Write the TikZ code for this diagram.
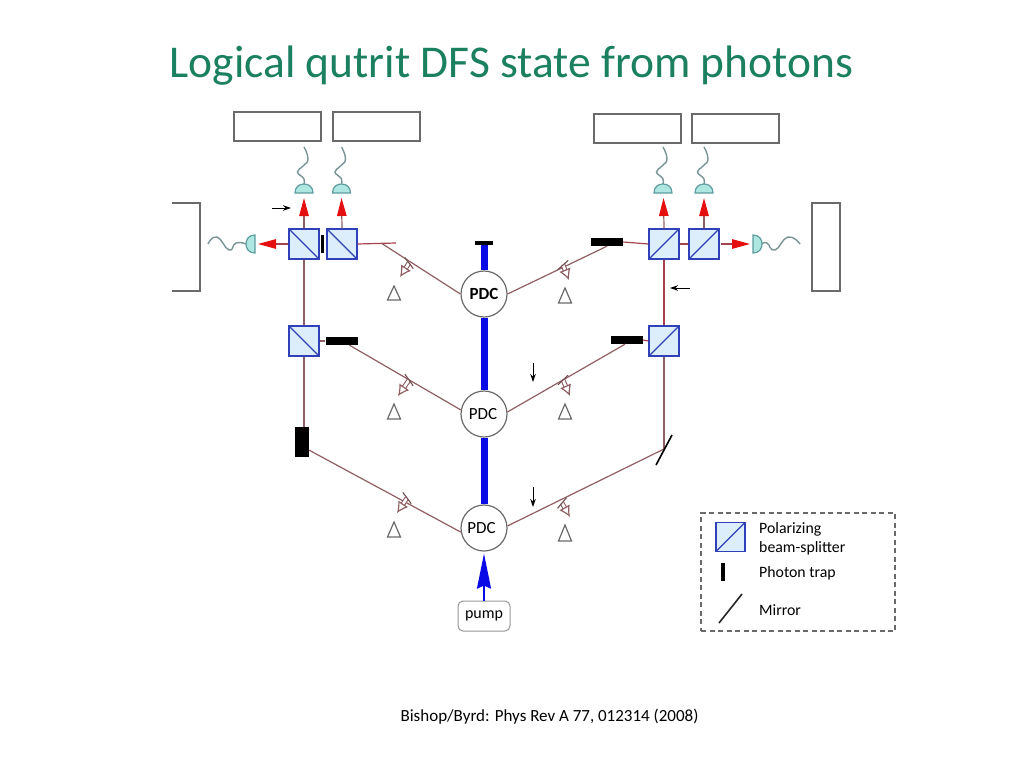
\documentclass[tikz,border=0pt]{standalone}
\usepackage{fontspec}
\setmainfont{Carlito}
\usetikzlibrary{arrows.meta,calc}
\definecolor{beamc}{HTML}{8F5F63}
\definecolor{beamr}{HTML}{A5424E}
\definecolor{boxg}{HTML}{6A6A6A}
\definecolor{pbsf}{HTML}{DCEEFB}
\definecolor{pbsd}{HTML}{3040B8}
\definecolor{detf}{HTML}{AEE6E2}
\definecolor{detd}{HTML}{5E9C9E}
\definecolor{wavec}{HTML}{7A9496}
\definecolor{titlec}{HTML}{1A8060}
\definecolor{pumpb}{HTML}{0A0AE6}
\definecolor{redt}{HTML}{E41010}
\tikzset{
  x=1pt,y=-1pt,
  readout/.style={draw=boxg,line width=1.4pt,fill=white,minimum width=87pt,minimum height=29pt,inner sep=0pt},
  pbsbase/.style={draw=pbsd,fill=pbsf,line width=1.2pt,minimum size=30pt,inner sep=0pt},
  pbsa/.style={pbsbase,path picture={\draw[pbsd,line width=1.1pt] (path picture bounding box.north west)--(path picture bounding box.south east);}},
  pbsb/.style={pbsbase,path picture={\draw[pbsd,line width=1.1pt] (path picture bounding box.south west)--(path picture bounding box.north east);}},
  trap/.style={fill=black,inner sep=0pt},
  pdc/.style={circle,draw=boxg,line width=1.2pt,fill=white,minimum size=46pt,inner sep=0pt,font=\fontsize{17}{19}\selectfont},
  beam/.style={beamc,line width=1.2pt},
  beamred/.style={beamr,line width=1.2pt},
  pumpbeam/.style={pumpb,line width=7pt},
  redarrow/.style={beamc,line width=1.2pt,-{Triangle[length=18pt,width=9.5pt,color=redt]}},
  redarrowh/.style={beamr,line width=1.2pt,-{Triangle[length=18pt,width=9.5pt,color=redt]}},
  det/.style={draw=detd,fill=detf,line width=1.2pt},
  wave/.style={wavec,line width=1.4pt},
  smallarrow/.style={black,line width=1pt,-{Stealth[length=8pt,width=5.5pt]}},
  hollow/.style={draw=beamc,line width=1.1pt,double=white,double distance=2.6pt,-{Latex[open,length=11pt,width=12pt,fill=white,line width=1.2pt]}},
  tick/.style={beamc!80!black,line width=1.1pt},
  delta/.style={draw=boxg,line width=1.2pt,fill=white},
  lab/.style={font=\fontsize{15.8}{18}\selectfont,anchor=west,inner sep=0pt,black},
}
\newcommand{\domeup}[1]{\draw[det,shift={(#1)}] (-9,9) .. controls (-9,3) and (-5,0) .. (0,0) .. controls (5,0) and (9,3) .. (9,9) -- cycle;}
\newcommand{\domeleft}[1]{\draw[det,shift={(#1)}] (9,-9) .. controls (3,-9) and (0,-5) .. (0,0) .. controls (0,5) and (3,9) .. (9,9) -- cycle;}
\newcommand{\domeright}[1]{\draw[det,shift={(#1)}] (-9,-9) .. controls (-3,-9) and (0,-5) .. (0,0) .. controls (0,5) and (-3,9) .. (-9,9) -- cycle;}
\newcommand{\waveup}[1]{\draw[wave,shift={(#1)}] plot[smooth,tension=0.9] coordinates {(0,0) (-0.5,-6) (-6.5,-12) (-1,-18) (4,-25) (0,-37)};}
\newcommand{\hollowmark}[3]{%
  \coordinate (ha) at (#1); \coordinate (hb) at (#2);
  \draw[hollow] (ha) -- (hb);
  \draw[tick] ($(ha)!7pt!#3:(hb)$) -- ($(ha)!-7pt!#3:(hb)$);
}
\newcommand{\deltamark}[3]{\draw[delta] (#1,#2) -- (#1-6.5,#3) -- (#1+6.5,#3) -- cycle;}
\begin{document}
\begin{tikzpicture}
\useasboundingbox (0,0) rectangle (1024,768);
\fill[white] (0,0) rectangle (1024,768);

\node[titlec,font=\fontsize{45.5}{50}\selectfont,inner sep=0pt] (title) at (511.5,66) {Logical qutrit DFS state from photons};
\node[black,font=\fontsize{17}{20}\selectfont,inner sep=0pt] (cite) at (549.5,717) {Bishop/Byrd: Phys Rev A 77, 012314 (2008)};

% readout boxes
\node[readout] (ra1) at (277.5,126.5) {};
\node[readout] (ra2) at (376.5,126.5) {};
\node[readout] (rb1) at (637.5,128.5) {};
\node[readout] (rb2) at (735.5,128.5) {};
\draw[boxg,line width=1.4pt] (172,203) -- (200,203) -- (200,291) -- (172,291);
\node[readout,minimum width=28pt,minimum height=88pt] (rr) at (826,247) {};

% PDC and beam
\coordinate (t0) at (484,242);
\node[pdc,font=\fontsize{17}{19}\selectfont\bfseries] (p1) at (484,294) {PDC};
\node[pdc] (p2) at (484,414) {PDC\hspace*{2pt}};
\node[pdc] (p3) at (484,528) {PDC\hspace*{5pt}};
\node[draw=boxg!70,line width=1pt,rounded corners=5pt,minimum width=52pt,minimum height=30pt,inner sep=0pt,font=\fontsize{16}{19}\selectfont,fill=white] (pump) at (484,616) {pump};
\draw[pumpbeam] (t0) -- (p1.north);
\draw[pumpbeam] (p1.south) -- (p2.north);
\draw[pumpbeam] (p2.south) -- (p3.north);
\node[trap,minimum width=18pt,minimum height=4pt] (ttop) at (484,242.5) {};
\draw[pumpb,line width=1.8pt,-{Stealth[length=35pt,width=14pt,inset=3pt]}] (pump.north) -- ($(p3.south)+(0,2)$);

% left side
\node[pbsa] (a1) at (304,244) {};
\node[pbsa] (a2) at (342,244) {};
\node[pbsa] (a3) at (304,341) {};
\node[trap,minimum width=3.5pt,minimum height=18pt] (ta1) at (322.5,244) {};
\node[trap,minimum width=32pt,minimum height=8pt] (ta2) at (341.5,341) {};
\node[trap,minimum width=14pt,minimum height=30pt] (ta3) at (302,442) {};
\coordinate (af) at (396,243);
\coordinate (am) at (381,243);
\draw[beamred] (a2.east) -- (af);
\draw[beam] (a1.south) -- (a3.north);
\draw[beam] (a3.east) -- (ta2.west);
\draw[beam] (a3.south) -- (ta3.north -| a3.south);
\draw[beam] (am) -- (p1.west);
\draw[beam] (ta2.south) ++(8,0) -- (p2.170);
\draw[beam] (ta3.south east) ++(0,-7) -- (p3.190);

% right side
\node[pbsb] (b1) at (664,244) {};
\node[pbsb] (b2) at (704,244) {};
\node[pbsb] (b3) at (664,341) {};
\node[trap,minimum width=32pt,minimum height=8pt] (tb1) at (607,242) {};
\node[trap,minimum width=32pt,minimum height=8pt] (tb3) at (627,340) {};
\draw[beamred] (tb1.east) -- (b1.west);
\draw[beamred] (b1.east) -- (b2.west);
\draw[beamred] (b1.south) -- (b3.north);
\draw[beamred] (tb3.east) -- (b3.west);
\coordinate (mt) at (672,435);
\coordinate (mb) at (656,465);
\coordinate (mm) at (664,449);
\draw[beam] (b3.south) -- (mm);
\draw[beam] (p1.east) -- (tb1.south);
\draw[beam] (p2.5) -- ($(tb3.south)+(-2,0)$);
\draw[beam] (p3.5) -- (mm);
\draw[black,line width=1.6pt] (mt) -- (mb);

% red arrows, detectors, fibres
\coordinate (d1) at (304,184); \coordinate (d2) at (341.5,184);
\coordinate (d3) at (663,184); \coordinate (d4) at (704,184);
\coordinate (d5) at (246,244); \coordinate (d6) at (762,244);
\draw[redarrow] (a1.north) -- (304,198);
\draw[redarrow] (a2.north) -- (341.5,198);
\draw[redarrow] (b1.north) -- (663.5,198);
\draw[redarrow] (b2.north) -- (704,198);
\draw[redarrowh] (a1.west) -- (258,244);
\draw[redarrowh] (721,244) -- (750,244);
\waveup{d1} \waveup{d2} \waveup{d3} \waveup{d4}
\draw[wave] plot[smooth,tension=0.9] coordinates {(d5) (236,243) (229,250) (217,237) (208,244)};
\draw[wave] plot[smooth,tension=0.9] coordinates {(d6) (767,243) (775,250) (788,237) (800,244)};
\domeup{d1} \domeup{d2} \domeup{d3} \domeup{d4}
\domeleft{d5} \domeright{d6}

% small arrows
\draw[smallarrow] (272,208) -- (291,208);
\draw[smallarrow] (690,288) -- (670,288);
\draw[smallarrow] (533,363) -- (533,382);
\draw[smallarrow] (533,487) -- (533,507);

% hollow marks
\hollowmark{409,263}{400,277}{70}
\hollowmark{563,265}{569,280}{110}
\hollowmark{409,380}{398,396}{70}
\hollowmark{563,380}{570,396}{110}
\hollowmark{407,498}{397,513}{70}
\hollowmark{562,503}{570,517}{110}
\deltamark{394}{286}{300}
\deltamark{565}{288}{303}
\deltamark{394}{404}{419}
\deltamark{565}{404}{419}
\deltamark{394}{522}{537}
\deltamark{565}{525}{541}

% legend
\node[draw=boxg,line width=1.2pt,dash pattern=on 5pt off 3.5pt,minimum width=194pt,minimum height=118pt,inner sep=0pt] (leg) at (798,572) {};
\node[pbsb,minimum size=29pt] (lp) at (730.5,537) {};
\node[trap,minimum width=4.5pt,minimum height=18pt] (lt) at (723,572) {};
\coordinate (lm1) at (742,594); \coordinate (lm2) at (719,623);
\draw[black!85,line width=1.6pt] (lm1) -- (lm2);
\node[lab] (l1) at (759,529) {Polarizing};
\node[lab] (l2) at (759,548) {beam-splitter};
\node[lab] (l3) at (759,573) {Photon trap};
\node[lab] (l4) at (759,610) {Mirror};
\end{tikzpicture}
\end{document}
